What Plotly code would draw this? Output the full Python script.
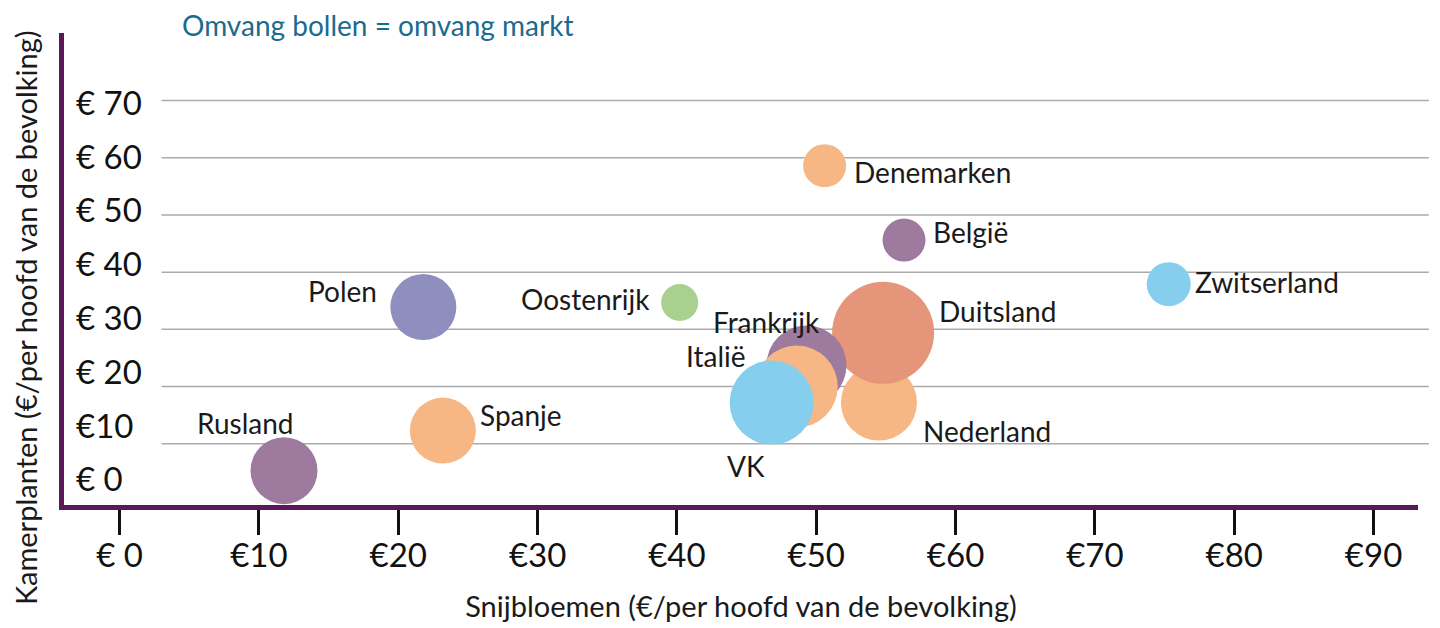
import plotly.graph_objects as go

# ---- data ----
landen = ["Rusland", "Spanje", "Polen", "Oostenrijk", "Denemarken", "België",
          "Zwitserland", "Nederland", "Duitsland", "Frankrijk", "Italië", "VK"]
snijbloemen = [11.8, 23.2, 21.8, 40.2, 50.6, 56.3, 75.3, 54.5, 54.8, 49.3, 48.6, 46.8]
kamerplanten = [5.3, 12.3, 33.9, 34.7, 58.6, 45.6, 37.9, 17.2, 29.4, 23.7, 20.0, 17.2]
omvang_markt = [67, 66, 66, 37, 43, 43, 44, 76, 102, 80, 82, 84]

x_tickvals = [0, 10, 20, 30, 40, 50, 60, 70, 80, 90]
x_ticktext = ["€ 0", "€10", "€20", "€30", "€40", "€50", "€60", "€70", "€80", "€90"]
y_tickvals = [0, 10, 20, 30, 40, 50, 60, 70]
y_ticktext = ["€ 0", "€10", "€ 20", "€ 30", "€ 40", "€ 50", "€ 60", "€ 70"]

# ---- styles ----
PEACH = "#F6B784"
MAUVE = "#9E7B9E"
SKY = "#86CEEE"
LAV = "#8F8FBF"
GREEN = "#A9D08E"
SALMON = "#E5967A"
kleur = {"Rusland": MAUVE, "Spanje": PEACH, "Polen": LAV, "Oostenrijk": GREEN,
         "Denemarken": PEACH, "België": MAUVE, "Zwitserland": SKY,
         "Nederland": PEACH, "Duitsland": SALMON, "Frankrijk": MAUVE,
         "Italië": PEACH, "VK": SKY}
# label placement: (xanchor, xshift, yshift)
label_pos = {"Rusland": ("center", -39, 48), "Spanje": ("left", 35, 16),
             "Polen": ("right", -44, 16), "Oostenrijk": ("right", -28, 3),
             "Denemarken": ("left", 27, -6), "België": ("left", 27, 8),
             "Zwitserland": ("left", 24, 2), "Nederland": ("left", 42, -28),
             "Duitsland": ("left", 54, 22), "Frankrijk": ("center", -40, 43),
             "Italië": ("right", -49, 31), "VK": ("center", -26, -63)}

FONT = "Lato, 'Open Sans', sans-serif"
AXIS = "#5A1856"
TXT = "#1A1A1A"

fig = go.Figure()
fig.add_trace(go.Scatter(
    x=snijbloemen, y=kamerplanten, mode="markers",
    text=landen,
    marker=dict(size=omvang_markt, sizemode="diameter", sizeref=1,
                color=[kleur[l] for l in landen], opacity=1,
                line=dict(width=0)),
    hovertemplate="%{text}<br>Snijbloemen: €%{x}<br>Kamerplanten: €%{y}<extra></extra>",
    showlegend=False, cliponaxis=False,
))

# gridlines (drawn from tick values, starting right of the tick labels)
for v in y_tickvals[1:]:
    fig.add_shape(type="line", xref="paper", yref="y", x0=0.072, x1=1.008,
                  y0=v, y1=v, line=dict(color="#ABABAB", width=1.5), layer="below")

# y tick labels (inside the plot, right of the axis line)
for v, t in zip(y_tickvals, y_ticktext):
    fig.add_annotation(xref="paper", yref="y", x=0, y=v, text=t, showarrow=False,
                       xanchor="left", yanchor="middle", xshift=10,
                       yshift=22.6 - 0.343 * v,
                       font=dict(family=FONT, size=33, color="#111111"))

for l, xv, yv in zip(landen, snijbloemen, kamerplanten):
    anc, xs, ys = label_pos[l]
    fig.add_annotation(x=xv, y=yv, text=l, showarrow=False, xanchor=anc,
                       yanchor="middle", xshift=xs, yshift=ys,
                       font=dict(family=FONT, size=28, color=TXT))

fig.add_annotation(xref="paper", yref="paper", x=0.0857, y=1.0, yshift=8,
                   text="Omvang bollen = omvang markt", showarrow=False,
                   xanchor="left", yanchor="middle",
                   font=dict(family=FONT, size=28, color="#1B6A8F"))

# y axis title (placed like the reference: lower-centred, left of the axis)
fig.add_annotation(xref="paper", yref="paper", x=-0.0288, y=0.396,
                   text="Kamerplanten (€/per hoofd van de bevolking)", textangle=-90,
                   showarrow=False, xanchor="center", yanchor="middle",
                   font=dict(family=FONT, size=29, color=TXT))

fig.update_xaxes(range=[-3.99, 93.19], tickvals=x_tickvals, ticktext=x_ticktext,
                 showgrid=False, zeroline=False, showline=True, linecolor=AXIS,
                 linewidth=5, ticks="outside", ticklen=25, tickwidth=2.5,
                 tickcolor="#111111", ticklabelstandoff=-8,
                 tickfont=dict(family=FONT, size=33, color="#111111"),
                 title=dict(text="Snijbloemen (€/per hoofd van de bevolking)",
                            font=dict(family=FONT, size=29, color=TXT),
                            standoff=26))
fig.update_yaxes(range=[-0.7, 81.8], showticklabels=False,
                 showgrid=False, zeroline=False, showline=True, linecolor=AXIS,
                 linewidth=5, ticks="")

fig.update_layout(width=1432, height=620, plot_bgcolor="white", paper_bgcolor="white",
                  margin=dict(l=56, r=22, t=25, b=123, autoexpand=False),
                  font=dict(family=FONT))

fig.write_html("out.html")
